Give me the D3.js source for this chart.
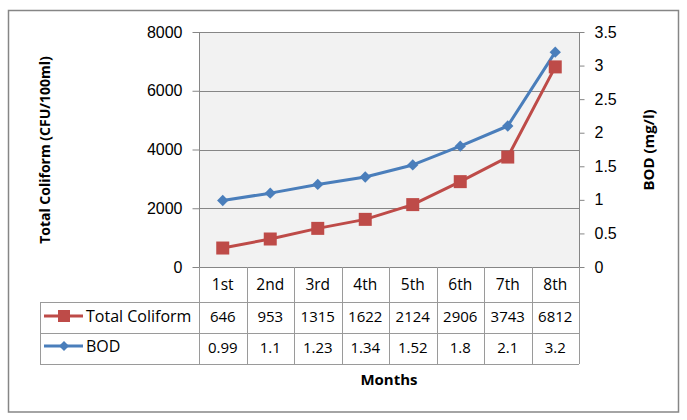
<!DOCTYPE html>
<html>
<head>
<meta charset="utf-8">
<script src="https://cdn.jsdelivr.net/npm/d3@7"></script>
<style>
  body { margin: 0; background: #fff; }
  svg { font-family: "Open Sans", sans-serif; }
  .axis path, .axis line { stroke: #868686; }
  .axis text { font-size: 16px; fill: #000; }
</style>
</head>
<body>
<svg id="chart" width="687" height="420"></svg>
<script>
var months = ['1st', '2nd', '3rd', '4th', '5th', '6th', '7th', '8th'];
var coliform = [646, 953, 1315, 1622, 2124, 2906, 3743, 6812];
var bod = [0.99, 1.1, 1.23, 1.34, 1.52, 1.8, 2.1, 3.2];
var bodLabels = ['0.99', '1.1', '1.23', '1.34', '1.52', '1.8', '2.1', '3.2'];
var leftTicks = [0, 2000, 4000, 6000, 8000];
var rightTicks = [0, 0.5, 1, 1.5, 2, 2.5, 3, 3.5];

var red = '#BE4B48';
var blue = '#4A7EBB';
var gridColor = '#868686';

var svg = d3.select('#chart');

// outer frame
svg.append('rect')
  .attr('x', 8.5).attr('y', 10.5)
  .attr('width', 670).attr('height', 401.5)
  .attr('fill', '#fff')
  .attr('stroke', gridColor)
  .attr('stroke-width', 1.5);

var plot = { left: 199, right: 579, top: 32, bottom: 267 };

var x = d3.scaleBand()
  .domain(months)
  .range([plot.left, plot.right]);

var yLeft = d3.scaleLinear()
  .domain([0, 8000])
  .range([plot.bottom, plot.top]);

var yRight = d3.scaleLinear()
  .domain([0, 3.5])
  .range([plot.bottom, plot.top]);

// plot background
svg.append('rect')
  .attr('x', plot.left).attr('y', plot.top)
  .attr('width', plot.right - plot.left)
  .attr('height', plot.bottom - plot.top)
  .attr('fill', '#f2f2f2');

// gridlines
svg.append('g')
  .selectAll('line')
  .data(leftTicks)
  .enter()
  .append('line')
  .attr('x1', plot.left).attr('x2', plot.right)
  .attr('y1', function(d) { return Math.round(yLeft(d)) + 0.5; })
  .attr('y2', function(d) { return Math.round(yLeft(d)) + 0.5; })
  .attr('stroke', gridColor);

var leftAxis = d3.axisLeft(yLeft)
  .tickValues(leftTicks)
  .tickSize(7)
  .tickPadding(10)
  .tickFormat(d3.format('d'));

svg.append('g')
  .attr('class', 'axis')
  .attr('transform', 'translate(' + (plot.left + 0.5) + ',0)')
  .call(leftAxis)
  .select('.domain').remove();

var rightAxis = d3.axisRight(yRight)
  .tickValues(rightTicks)
  .tickSize(5)
  .tickPadding(10)
  .tickFormat(function(d) { return d; });

svg.append('g')
  .attr('class', 'axis')
  .attr('transform', 'translate(' + (plot.right + 0.5) + ',0)')
  .call(rightAxis)
  .select('.domain').remove();

// axis lines on both sides
svg.append('line')
  .attr('x1', plot.left + 0.5).attr('x2', plot.left + 0.5)
  .attr('y1', plot.top).attr('y2', plot.bottom)
  .attr('stroke', gridColor);
svg.append('line')
  .attr('x1', plot.right + 0.5).attr('x2', plot.right + 0.5)
  .attr('y1', plot.top).attr('y2', plot.bottom)
  .attr('stroke', gridColor);

// data table
var table = { left: 40, rows: [267, 302, 333, 364] };
var tableColor = '#9a9a9a';

var bounds = months.map(function(m) { return x(m); }).concat([plot.right]);

svg.append('g')
  .selectAll('line')
  .data(bounds)
  .enter()
  .append('line')
  .attr('x1', function(d) { return Math.round(d) + 0.5; })
  .attr('x2', function(d) { return Math.round(d) + 0.5; })
  .attr('y1', table.rows[0]).attr('y2', table.rows[3])
  .attr('stroke', tableColor);

svg.append('g')
  .selectAll('line')
  .data(table.rows.slice(1))
  .enter()
  .append('line')
  .attr('x1', table.left).attr('x2', plot.right)
  .attr('y1', function(d) { return d + 0.5; })
  .attr('y2', function(d) { return d + 0.5; })
  .attr('stroke', tableColor);

svg.append('line')
  .attr('x1', table.left + 0.5).attr('x2', table.left + 0.5)
  .attr('y1', table.rows[1]).attr('y2', table.rows[3])
  .attr('stroke', tableColor);

function cellText(values, yMid, size) {
  svg.append('g')
    .selectAll('text')
    .data(values)
    .enter()
    .append('text')
    .attr('x', function(d, i) { return x(months[i]) + x.bandwidth() / 2; })
    .attr('y', yMid)
    .attr('dy', '0.35em')
    .attr('text-anchor', 'middle')
    .attr('font-size', size)
    .text(function(d) { return d; });
}

cellText(months, 285, '15.5px');
cellText(coliform, 317, '15px');
cellText(bodLabels, 348, '15px');

// legend keys in the table
function legendKey(yMid, color, label, shape) {
  var g = svg.append('g');
  g.append('line')
    .attr('x1', 44).attr('x2', 83)
    .attr('y1', yMid).attr('y2', yMid)
    .attr('stroke', color)
    .attr('stroke-width', 3);
  g.append('path')
    .attr('d', d3.symbol().type(shape.type).size(shape.size)())
    .attr('transform', 'translate(64,' + yMid + ')' + (shape.rotate ? ' rotate(45)' : ''))
    .attr('fill', color);
  g.append('text')
    .attr('x', 86).attr('y', yMid)
    .attr('dy', '0.35em')
    .attr('font-size', '16px')
    .text(label);
}

legendKey(316, red, 'Total Coliform', { type: d3.symbolSquare, size: 144 });
legendKey(346, blue, 'BOD', { type: d3.symbolSquare, size: 50, rotate: true });

// series lines
var cx = function(i) { return x(months[i]) + x.bandwidth() / 2; };

var coliformLine = d3.line()
  .x(function(d, i) { return cx(i); })
  .y(function(d) { return yLeft(d); });

var bodLine = d3.line()
  .x(function(d, i) { return cx(i); })
  .y(function(d) { return yRight(d); });

svg.append('path')
  .datum(bod)
  .attr('d', bodLine)
  .attr('fill', 'none')
  .attr('stroke', blue)
  .attr('stroke-width', 3)
  .attr('stroke-linejoin', 'round');

svg.append('g')
  .selectAll('path')
  .data(bod)
  .enter()
  .append('path')
  .attr('d', d3.symbol().type(d3.symbolSquare).size(64)())
  .attr('transform', function(d, i) {
    return 'translate(' + cx(i) + ',' + yRight(d) + ') rotate(45)';
  })
  .attr('fill', blue);

svg.append('path')
  .datum(coliform)
  .attr('d', coliformLine)
  .attr('fill', 'none')
  .attr('stroke', red)
  .attr('stroke-width', 3)
  .attr('stroke-linejoin', 'round');

svg.append('g')
  .selectAll('rect')
  .data(coliform)
  .enter()
  .append('rect')
  .attr('x', function(d, i) { return cx(i) - 6.5; })
  .attr('y', function(d) { return yLeft(d) - 6.5; })
  .attr('width', 13).attr('height', 13)
  .attr('fill', red);

// axis titles
svg.append('text')
  .attr('transform', 'translate(50,150) rotate(-90)')
  .attr('text-anchor', 'middle')
  .attr('font-size', '14px')
  .attr('font-weight', 'bold')
  .text('Total Coliform (CFU/100ml)');

svg.append('text')
  .attr('transform', 'translate(654,150) rotate(-90)')
  .attr('text-anchor', 'middle')
  .attr('font-size', '15px')
  .attr('font-weight', 'bold')
  .text('BOD (mg/l)');

svg.append('text')
  .attr('x', 389).attr('y', 380)
  .attr('dy', '0.35em')
  .attr('text-anchor', 'middle')
  .attr('font-size', '15px')
  .attr('font-weight', 'bold')
  .text('Months');
</script>
</body>
</html>
